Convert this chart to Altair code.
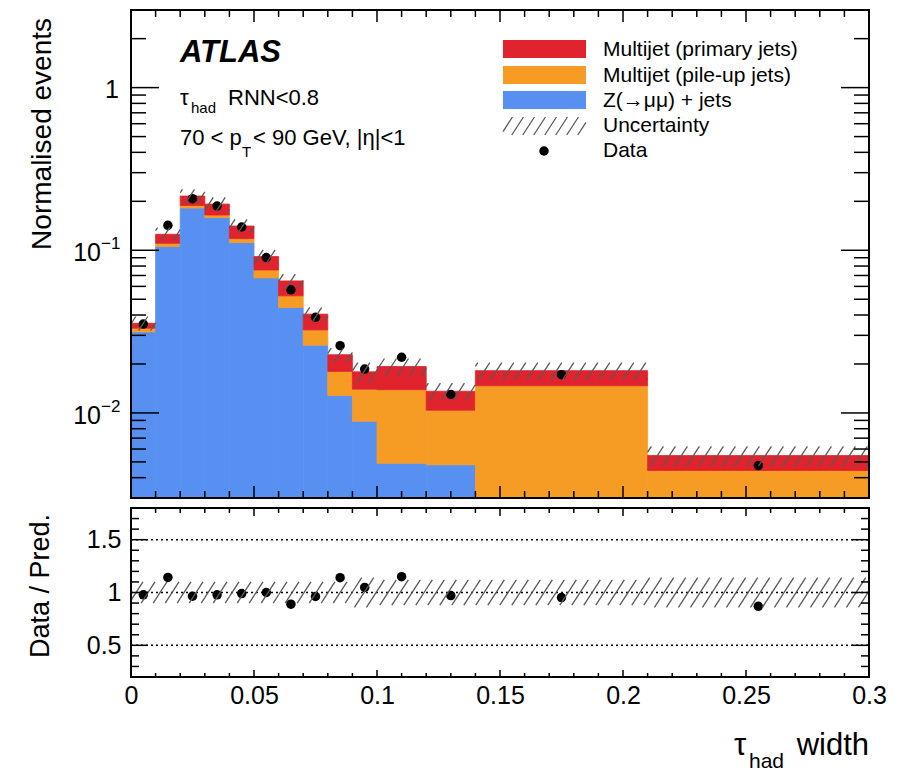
import altair as alt
import numpy as np
import pandas as pd

# ---------------- data ----------------
bin_lo = [0.00, 0.01, 0.02, 0.03, 0.04, 0.05, 0.06, 0.07, 0.08, 0.09, 0.10, 0.12, 0.14, 0.21]
bin_hi = [0.01, 0.02, 0.03, 0.04, 0.05, 0.06, 0.07, 0.08, 0.09, 0.10, 0.12, 0.14, 0.21, 0.30]
bin_center = [0.005, 0.015, 0.025, 0.035, 0.045, 0.055, 0.065, 0.075, 0.085, 0.095, 0.11, 0.13, 0.175, 0.255]

zmumu   = [0.0315, 0.1054, 0.1818, 0.1588, 0.1115, 0.0676, 0.0445, 0.0261, 0.0128, 0.0089, 0.0049, 0.0048, 0.0, 0.0]
pileup  = [0.0017, 0.0050, 0.0070, 0.0059, 0.0065, 0.0081, 0.0080, 0.0063, 0.0052, 0.0051, 0.0090, 0.0056, 0.0147, 0.00443]
primary = [0.0024, 0.0150, 0.0267, 0.0276, 0.0230, 0.0158, 0.0123, 0.0081, 0.0048, 0.0039, 0.0054, 0.0032, 0.0035, 0.00104]
data_y  = [0.0352, 0.1424, 0.2076, 0.1870, 0.139, 0.0902, 0.0571, 0.0387, 0.0259, 0.0186, 0.0220, 0.0130, 0.01718, 0.00475]
ratio_y = [0.978, 1.143, 0.965, 0.978, 0.99, 1.0, 0.889, 0.962, 1.14, 1.048, 1.15, 0.971, 0.952, 0.869]
unc_rel = [0.10, 0.10, 0.10, 0.10, 0.10, 0.10, 0.10, 0.10, 0.10, 0.14, 0.12, 0.12, 0.12, 0.14]

comp_names = ["Multijet (primary jets)", "Multijet (pile-up jets)", "Z(→μμ) + jets"]
comp_colors = ["#e1232e", "#f69c25", "#5890f2"]

x_tick_major = [0.05, 0.10, 0.15, 0.20, 0.25]
x_tick_minor = [0.01, 0.02, 0.03, 0.04, 0.06, 0.07, 0.08, 0.09, 0.11, 0.12, 0.13, 0.14,
                0.16, 0.17, 0.18, 0.19, 0.21, 0.22, 0.23, 0.24, 0.26, 0.27, 0.28, 0.29]
x_label_values = [0, 0.05, 0.1, 0.15, 0.2, 0.25, 0.3]
log_major = [0.01, 0.1, 1.0]
log_minor = [0.004, 0.005, 0.006, 0.007, 0.008, 0.009,
             0.02, 0.03, 0.04, 0.05, 0.06, 0.07, 0.08, 0.09,
             0.2, 0.3, 0.4, 0.5, 0.6, 0.7, 0.8, 0.9, 2.0]
r_major = [0.5, 1.0, 1.5]
r_minor = [0.3, 0.4, 0.6, 0.7, 0.8, 0.9, 1.1, 1.2, 1.3, 1.4, 1.6, 1.7]

# ---------------- geometry ----------------
X_MAX = 0.3
Y_MIN, Y_MAX = 0.003, 3.0
R_MIN, R_MAX = 0.2, 1.8
W, H1, H2 = 738, 488, 169
LMIN, LMAX = np.log10(Y_MIN), np.log10(Y_MAX)
FONT = "Liberation Sans"
HATCH_COLOR = "#5a5a5a"

xscale = alt.Scale(domain=[0, X_MAX], nice=False, zero=False)
yscale = alt.Scale(type="log", domain=[Y_MIN, Y_MAX], nice=False)
rscale = alt.Scale(domain=[R_MIN, R_MAX], nice=False, zero=False)

n = len(bin_lo)
total = [zmumu[i] + pileup[i] + primary[i] for i in range(n)]

# stacked histogram rectangles
rows = []
for i in range(n):
    b = zmumu[i]
    o = b + pileup[i]
    t = o + primary[i]
    if b > 0:
        rows.append(dict(x0=bin_lo[i], x1=bin_hi[i], lo=Y_MIN, hi=b, comp=comp_names[2]))
    rows.append(dict(x0=bin_lo[i], x1=bin_hi[i], lo=(b if b > 0 else Y_MIN), hi=o, comp=comp_names[1]))
    rows.append(dict(x0=bin_lo[i], x1=bin_hi[i], lo=o, hi=t, comp=comp_names[0]))
stack_df = pd.DataFrame(rows)

points_df = pd.DataFrame({"x": bin_center, "y": data_y})
ratio_df = pd.DataFrame({"x": bin_center, "r": ratio_y})


def hatch_segments(x0p, x1p, ytp, ybp, spacing=12.0, s=0.65):
    segs = []
    kmin = int(np.floor((x0p + s * ytp) / spacing)) - 1
    kmax = int(np.ceil((x1p + s * ybp) / spacing)) + 1
    for k in range(kmin, kmax + 1):
        c = k * spacing
        yb = ybp
        xb = c - s * yb
        if xb < x0p:
            xb = x0p
            yb = (c - x0p) / s
        yt = ytp
        xt = c - s * yt
        if xt > x1p:
            xt = x1p
            yt = (c - x1p) / s
        if yb - yt > 0.5 and xt >= xb:
            segs.append((xb, yb, xt, yt))
    return segs


def ypix_log(v):
    return H1 * (LMAX - np.log10(v)) / (LMAX - LMIN)


def yinv_log(p):
    return 10 ** (LMAX - p / H1 * (LMAX - LMIN))


def ypix_r(v):
    return H2 * (R_MAX - v) / (R_MAX - R_MIN)


def yinv_r(p):
    return R_MAX - p / H2 * (R_MAX - R_MIN)


top_h, rat_h = [], []
for i in range(n):
    x0p, x1p = bin_lo[i] / X_MAX * W, bin_hi[i] / X_MAX * W
    lo, hi = total[i] * (1 - unc_rel[i]), total[i] * (1 + unc_rel[i])
    for (xa, ya, xb, yb) in hatch_segments(x0p, x1p, ypix_log(hi), ypix_log(lo)):
        top_h.append(dict(hx0=xa / W * X_MAX, hy0=yinv_log(ya), hx1=xb / W * X_MAX, hy1=yinv_log(yb)))
    for (xa, ya, xb, yb) in hatch_segments(x0p, x1p, ypix_r(1 + unc_rel[i]), ypix_r(1 - unc_rel[i])):
        rat_h.append(dict(hx0=xa / W * X_MAX, hy0=yinv_r(ya), hx1=xb / W * X_MAX, hy1=yinv_r(yb)))
top_hatch_df = pd.DataFrame(top_h)
rat_hatch_df = pd.DataFrame(rat_h)

# axes of the ratio panel (shared by every layer there, so that they merge)
x_axis = alt.Axis(values=x_label_values, labelExpr="format(datum.value, '~g')", labelFontSize=25,
                  labelFont=FONT, labelColor="black", labelPadding=6, ticks=False, domain=False,
                  grid=False, title=None, labelFlush=False, labelOverlap=False)
r_axis = alt.Axis(values=r_major, labelExpr="format(datum.value, '~g')", labelFontSize=25,
                  labelFont=FONT, labelColor="black", labelPadding=10, ticks=False, domain=False,
                  grid=False, title=None, labelOverlap=False)


def rule_x(values, scale, y_from, y_to, axis=None):
    return alt.Chart(pd.DataFrame({"v": values})).mark_rule(color="black", strokeWidth=1.5).encode(
        x=alt.X("v:Q", scale=scale, axis=axis), y=alt.value(y_from), y2=alt.value(y_to))


def rule_y(values, scale, x_from, x_to, axis=None):
    return alt.Chart(pd.DataFrame({"v": values})).mark_rule(color="black", strokeWidth=1.5).encode(
        y=alt.Y("v:Q", scale=scale, axis=axis), x=alt.value(x_from), x2=alt.value(x_to))


def txt(text, x, y, size, align="left", baseline="alphabetic", angle=0, weight="normal", style="normal"):
    return alt.Chart(pd.DataFrame({"t": [text]})).mark_text(
        align=align, baseline=baseline, angle=angle, fontSize=size, font=FONT,
        fontWeight=weight, fontStyle=style, color="black").encode(
        text="t:N", x=alt.value(x), y=alt.value(y))


def frame(h):
    return alt.Chart(pd.DataFrame({"t": ["frame"]})).mark_rect(
        fill=None, stroke="black", strokeWidth=2).encode(
        x=alt.value(0), x2=alt.value(W), y=alt.value(0), y2=alt.value(h))


# ---------------- top panel ----------------
bars = alt.Chart(stack_df).mark_rect(clip=True, strokeWidth=0.8).encode(
    x=alt.X("x0:Q", scale=xscale, axis=None), x2="x1:Q",
    y=alt.Y("lo:Q", scale=yscale, axis=None), y2="hi:Q",
    color=alt.Color("comp:N", scale=alt.Scale(domain=comp_names, range=comp_colors), legend=None),
    stroke=alt.Stroke("comp:N", scale=alt.Scale(domain=comp_names, range=comp_colors), legend=None))

pts = alt.Chart(points_df).mark_circle(size=90, color="black", opacity=1).encode(
    x=alt.X("x:Q", scale=xscale, axis=None), y=alt.Y("y:Q", scale=yscale, axis=None))

top_hatch = alt.Chart(top_hatch_df).mark_rule(color=HATCH_COLOR, strokeWidth=1.3, clip=True).encode(
    x=alt.X("hx0:Q", scale=xscale, axis=None), x2="hx1:Q",
    y=alt.Y("hy0:Q", scale=yscale, axis=None), y2="hy1:Q")

ylab_one = alt.Chart(pd.DataFrame({"v": [1.0], "t": ["1"]})).mark_text(
    align="right", baseline="middle", fontSize=25, font=FONT, color="black", dy=2).encode(
    y=alt.Y("v:Q", scale=yscale, axis=None), x=alt.value(-12), text="t:N")
ylab_ten = alt.Chart(pd.DataFrame({"v": [0.1, 0.01], "t": ["10", "10"]})).mark_text(
    align="right", baseline="middle", fontSize=25, font=FONT, color="black", dy=3).encode(
    y=alt.Y("v:Q", scale=yscale, axis=None), x=alt.value(-30), text="t:N")
ylab_exp = alt.Chart(pd.DataFrame({"v": [0.1, 0.01], "t": ["−1", "−2"]})).mark_text(
    align="left", baseline="middle", fontSize=17, font=FONT, color="black", dy=-6).encode(
    y=alt.Y("v:Q", scale=yscale, axis=None), x=alt.value(-30), text="t:N")

top_layers = [
    bars, pts, top_hatch,
    rule_x(x_tick_major, xscale, H1, H1 - 12), rule_x(x_tick_minor, xscale, H1, H1 - 7),
    rule_x(x_tick_major, xscale, 0, 12), rule_x(x_tick_minor, xscale, 0, 7),
    rule_y(log_major, yscale, 0, 28), rule_y(log_minor, yscale, 0, 15),
    rule_y(log_major, yscale, W - 28, W), rule_y(log_minor, yscale, W - 15, W),
    frame(H1),
    ylab_one, ylab_ten, ylab_exp,
    txt("Normalised events", -102, 8, 28, align="right", baseline="top", angle=270),
    txt("ATLAS", 49, 52, 31, weight="bold", style="italic"),
    txt("τ", 49, 95, 22),
    txt("had", 60, 103, 15),
    txt("RNN<0.8", 97, 95, 22),
    txt("70 < p", 49, 135, 22),
    txt("T", 111, 147, 15),
    txt("< 90 GeV, |η|<1", 122, 135, 22),
]

# legend
leg_x0, leg_x1, leg_text_x = 372, 455, 472
leg_rows = [(30, 48, 46), (56, 74, 72), (81, 99, 97)]
for (name, col), (y0, y1, yb) in zip(zip(comp_names, comp_colors), leg_rows):
    top_layers.append(alt.Chart(pd.DataFrame({"t": [name]})).mark_rect(color=col).encode(
        x=alt.value(leg_x0), x2=alt.value(leg_x1), y=alt.value(y0), y2=alt.value(y1)))
    top_layers.append(txt(name, leg_text_x, yb, 21))
leg_h = pd.DataFrame([dict(px0=a, py0=b, px1=c, py1=d)
                      for (a, b, c, d) in hatch_segments(leg_x0, leg_x1, 107, 125, spacing=11.0)])
top_layers.append(alt.Chart(leg_h).mark_rule(color=HATCH_COLOR, strokeWidth=1.3).encode(
    x=alt.X("px0:Q", scale=None), x2="px1:Q", y=alt.Y("py0:Q", scale=None), y2="py1:Q"))
top_layers.append(txt("Uncertainty", leg_text_x, 122, 21))
top_layers.append(alt.Chart(pd.DataFrame({"t": ["Data"]})).mark_circle(size=90, color="black", opacity=1).encode(
    x=alt.value(413), y=alt.value(141)))
top_layers.append(txt("Data", leg_text_x, 147, 21))

top = alt.layer(*top_layers).properties(width=W, height=H1)

# ---------------- ratio panel ----------------
ratio_pts = alt.Chart(ratio_df).mark_circle(size=90, color="black", opacity=1).encode(
    x=alt.X("x:Q", scale=xscale, axis=x_axis), y=alt.Y("r:Q", scale=rscale, axis=r_axis))

dotted = alt.Chart(pd.DataFrame({"v": r_major})).mark_rule(
    color="black", strokeWidth=1.5, strokeDash=[2, 3]).encode(
    y=alt.Y("v:Q", scale=rscale, axis=r_axis), x=alt.value(0), x2=alt.value(W))

rat_hatch = alt.Chart(rat_hatch_df).mark_rule(color=HATCH_COLOR, strokeWidth=1.3, clip=True).encode(
    x=alt.X("hx0:Q", scale=xscale, axis=x_axis), x2="hx1:Q",
    y=alt.Y("hy0:Q", scale=rscale, axis=r_axis), y2="hy1:Q")

bottom_layers = [
    dotted, ratio_pts, rat_hatch,
    rule_x(x_tick_major, xscale, H2, H2 - 7, x_axis), rule_x(x_tick_minor, xscale, H2, H2 - 4, x_axis),
    rule_x(x_tick_major, xscale, 0, 8, x_axis), rule_x(x_tick_minor, xscale, 0, 5, x_axis),
    rule_y(r_major, rscale, 0, 17, r_axis), rule_y(r_minor, rscale, 0, 8, r_axis),
    rule_y(r_major, rscale, W - 17, W, r_axis), rule_y(r_minor, rscale, W - 8, W, r_axis),
    frame(H2),
    txt("Data / Pred.", -103, 6, 27, align="right", baseline="top", angle=270),
    txt("width", W, 247, 31, align="right"),
    txt("had", 618, 260, 21),
    txt("τ", 603, 247, 31),
]
bottom = alt.layer(*bottom_layers).properties(width=W, height=H2)

chart = alt.vconcat(top, bottom, spacing=6).properties(
    padding={"left": 18, "top": 0, "right": 5, "bottom": 0}
).configure_view(strokeWidth=0).configure(font=FONT)

chart.save("out.html", embed_options={"renderer": "svg", "actions": False})
